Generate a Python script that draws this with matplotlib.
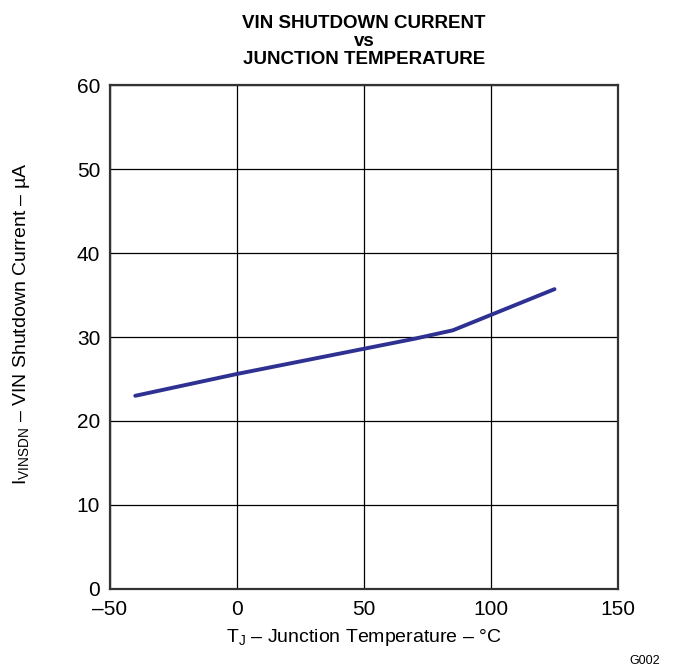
import matplotlib
matplotlib.use("Agg")
import matplotlib.pyplot as plt

# data
temp_c = [-40, 0, 25, 50, 70, 85, 125]
i_sdn_ua = [23.0, 25.6, 27.1, 28.6, 29.8, 30.8, 35.7]

x_ticks = [-50, 0, 50, 100, 150]
x_labels = ["\u201350", "0", "50", "100", "150"]
y_ticks = [0, 10, 20, 30, 40, 50, 60]

plt.rcParams['font.family'] = ['Liberation Sans', 'DejaVu Sans']
plt.rcParams['mathtext.fontset'] = 'custom'
plt.rcParams['mathtext.rm'] = 'Liberation Sans'
plt.rcParams['mathtext.it'] = 'Liberation Sans'

fig = plt.figure(figsize=(6.74, 6.70), dpi=100)
ax = fig.add_axes([0.163, 0.121, 0.754, 0.752])

ax.plot(temp_c, i_sdn_ua, color='#2e3192', lw=2.8, solid_capstyle='round')

ax.set_xlim(-50, 150)
ax.set_ylim(0, 60)
ax.set_xticks(x_ticks)
ax.set_xticklabels(x_labels)
ax.set_yticks(y_ticks)
ax.tick_params(length=0, labelsize=15, pad=7)
ax.tick_params(axis='x', pad=8)
ax.grid(True, color='black', lw=0.9)
ax.set_axisbelow(True)
for s in ax.spines.values():
    s.set_linewidth(1.6)
    s.set_color('#333333')

ax.set_title("VIN SHUTDOWN CURRENT\nvs\nJUNCTION TEMPERATURE",
             fontsize=13.5, fontweight='bold', linespacing=1.1, pad=15)
ax.set_xlabel(r"$\mathregular{T_J}$" + " \u2013 Junction Temperature \u2013 \u00b0C",
              fontsize=14)
ax.xaxis.set_label_coords(0.5, -0.075)
ax.set_ylabel(r"$\mathregular{I_{VINSDN}}$" + " \u2013 VIN Shutdown Current \u2013 \u00b5A",
              fontsize=14)
ax.yaxis.set_label_coords(-0.154, 0.527)

fig.text(0.979, 0.005, "G002", fontsize=9, ha='right', va='bottom')

fig.savefig("out.png", dpi=100)
